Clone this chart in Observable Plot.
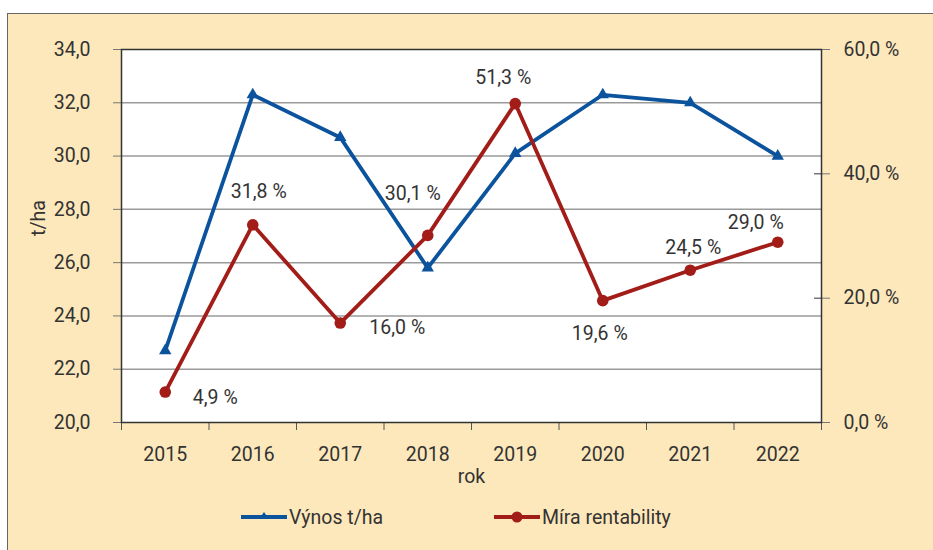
<!DOCTYPE html>
<html>
<head>
<meta charset="utf-8">
<script src="https://cdn.jsdelivr.net/npm/d3@7"></script>
<script src="https://cdn.jsdelivr.net/npm/@observablehq/plot@0.6"></script>
<style>
  html, body { margin: 0; padding: 0; background: #ffffff; }
  #fig { position: relative; width: 933px; height: 550px; overflow: hidden; font-family: Roboto, "Liberation Sans", sans-serif; color: #333; }
  #bg { position: absolute; left: 7px; top: 13px; right: -5px; bottom: -5px; background: #fde8bb; border-left: 1.5px solid #666; border-top: 1.5px solid #666; }
  #chart { position: absolute; left: 0; top: 0; }
  .leg { position: absolute; top: 504px; height: 26px; display: flex; align-items: center; font-size: 19.5px; color: #333; }
  .leg svg { margin-right: 2px; }
</style>
</head>
<body>
<div id="fig">
  <div id="bg"></div>
  <div id="chart"></div>
  <div class="leg" style="left:241px">
    <svg width="46" height="14"><line x1="0" x2="46" y1="7" y2="7" stroke="#0b539c" stroke-width="3.8"/><path d="M23,2 L28,9 L18,9 Z" fill="#0b539c"/></svg>
    <span>Výnos t/ha</span>
  </div>
  <div class="leg" style="left:494px">
    <svg width="46" height="14"><line x1="0" x2="46" y1="7" y2="7" stroke="#a21c18" stroke-width="3.8"/><circle cx="23" cy="7" r="5.5" fill="#a21c18"/></svg>
    <span>Míra rentability</span>
  </div>
</div>
<script>
// ---- data ----
const years = [2015, 2016, 2017, 2018, 2019, 2020, 2021, 2022];
const vynos = [22.7, 32.3, 30.7, 25.8, 30.1, 32.3, 32.0, 30.0];          // t/ha (left axis)
const rentabilita = [4.9, 31.8, 16.0, 30.1, 51.3, 19.6, 24.5, 29.0];     // % (right axis)
const leftTicks = [20, 22, 24, 26, 28, 30, 32, 34];
const rightTicks = [0, 20, 40, 60];
const seriesNames = ["Výnos t/ha", "Míra rentability"];
const xTitle = "rok";
const yTitle = "t/ha";

// ---- helpers ----
const BLUE = "#0b539c", RED = "#a21c18";
const leftMin = 20, leftMax = 34, rightMax = 60;
const pctToLeft = p => leftMin + p * (leftMax - leftMin) / rightMax;
const leftToPct = v => (v - leftMin) * rightMax / (leftMax - leftMin);
const fmtComma = d => d.toFixed(1).replace(".", ",");
const rows = years.map((year, i) => ({year, vynos: vynos[i], rent: rentabilita[i], rentY: pctToLeft(rentabilita[i])}));
const boundaries = [...years.map(y => y - 0.5), years[years.length - 1] + 0.5];

// label offsets (style): [dx, dy] per point
const labelOffsets = [[50, 6], [6, -33], [57, 5], [-15, -42], [-12, -26], [-3, 33], [3, -22], [-22, -19]];

const labelMarks = rows.map((r, i) => Plot.text([r], {
  x: "year", y: "rentY", text: d => fmtComma(d.rent) + " %",
  dx: labelOffsets[i][0], dy: labelOffsets[i][1],
  fill: "#333", fontSize: 19.5
}));

const plot = Plot.plot({
  width: 933,
  height: 497,
  marginTop: 49,
  marginBottom: 75,
  marginLeft: 121,
  marginRight: 112,
  style: {fontFamily: "Roboto, 'Liberation Sans', sans-serif", fontSize: "19.5px", color: "#333", background: "transparent", overflow: "visible"},
  x: {type: "linear", domain: [years[0] - 0.5, years[years.length - 1] + 0.5]},
  y: {domain: [leftMin, leftMax]},
  marks: [
    Plot.frame({fill: "white"}),
    Plot.ruleY(leftTicks.slice(1, -1), {stroke: "#9a9a9a", strokeWidth: 1.5}),
    Plot.axisY(leftTicks, {anchor: "left", tickFormat: fmtComma, tickSize: 8, tickPadding: 23, stroke: "#777", label: null, fontSize: 19.5}),
    Plot.axisY(rightTicks.map(pctToLeft), {anchor: "right", tickFormat: d => fmtComma(Math.round(leftToPct(d) * 10) / 10) + " %", tickSize: 8, tickPadding: 14, stroke: "#777", label: null, fontSize: 19.5}),
    Plot.axisY(rightTicks.slice(1, -1).map(pctToLeft), {anchor: "right", tickFormat: () => "", tickSize: -8, stroke: "#333", label: null}),
    Plot.axisX(years, {anchor: "bottom", tickFormat: d => String(d), tickSize: 0, tickPadding: 25, label: null, fontSize: 19.5}),
    Plot.axisX(boundaries, {anchor: "bottom", tickFormat: () => "", tickSize: 8, stroke: "#555", label: null}),
    Plot.text([yTitle], {frameAnchor: "left", dx: -83, rotate: -90, fill: "#333", fontSize: 19.5}),
    Plot.text([xTitle], {frameAnchor: "bottom", dy: 60, fill: "#333", fontSize: 19.5}),
    Plot.frame({stroke: "#333", strokeWidth: 1.5}),
    Plot.line(rows, {x: "year", y: "vynos", stroke: BLUE, strokeWidth: 3.8}),
    Plot.dot(rows, {x: "year", y: "vynos", symbol: "triangle", r: 4.6, fill: BLUE}),
    Plot.line(rows, {x: "year", y: "rentY", stroke: RED, strokeWidth: 3.8}),
    Plot.dot(rows, {x: "year", y: "rentY", r: 5.8, fill: RED}),
    ...labelMarks
  ]
});
document.getElementById("chart").appendChild(plot);
</script>
</body>
</html>
